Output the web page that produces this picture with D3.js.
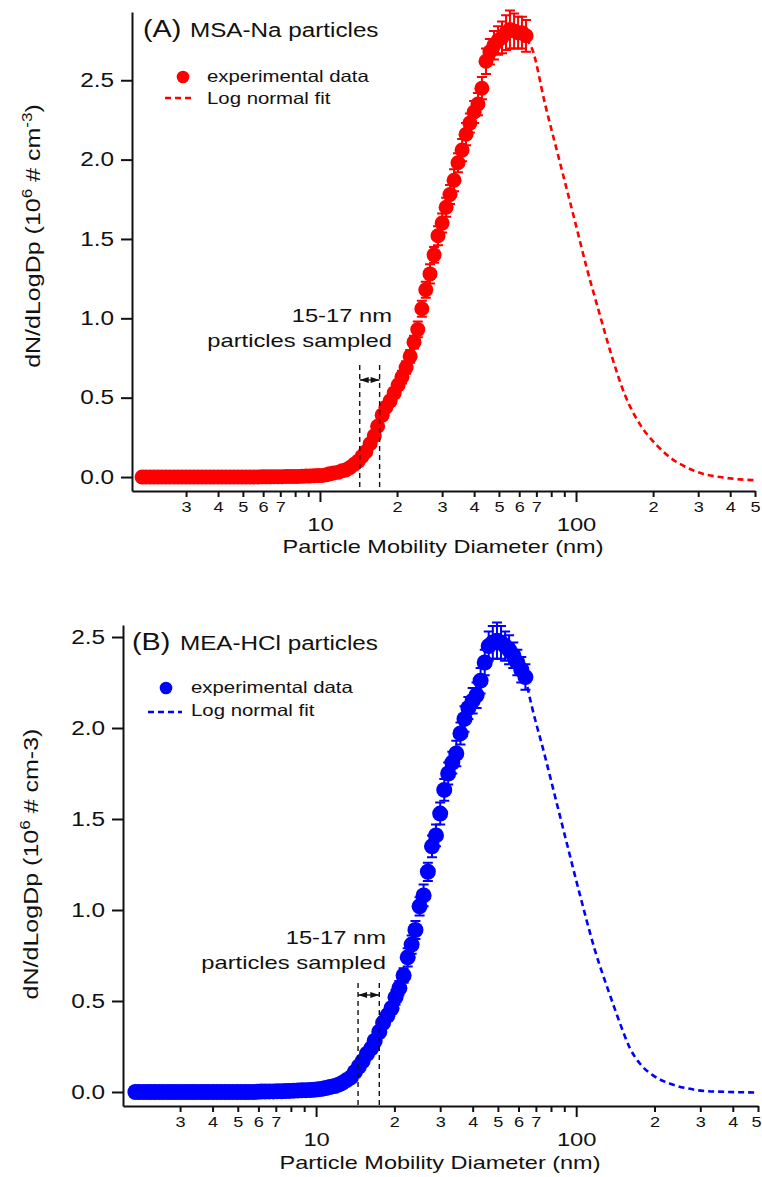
<!DOCTYPE html>
<html>
<head>
<meta charset="utf-8">
<script src="https://cdn.jsdelivr.net/npm/d3@7"></script>
<style>
    body { margin: 0; background: #fff; }
    svg text { font-family: "Liberation Sans", Arial, Helvetica, sans-serif; fill: #111; }
</style>
</head>
<body>
<div id="chart"></div>
<script>

// SMPS channel mid-point diameters (nm), 64 channels per decade
var diameters = [
    2.02, 2.09, 2.17, 2.25, 2.33, 2.41, 2.50, 2.59, 2.69, 2.79,
    2.89, 3.00, 3.11, 3.22, 3.34, 3.46, 3.59, 3.72, 3.85, 4.00,
    4.14, 4.29, 4.45, 4.61, 4.78, 4.96, 5.14, 5.33, 5.52, 5.73,
    5.94, 6.15, 6.38, 6.61, 6.85, 7.10, 7.37, 7.64, 7.91, 8.20,
    8.51, 8.82, 9.14, 9.47, 9.82,
    10.2, 10.6, 10.9, 11.3, 11.8, 12.2, 12.6, 13.1, 13.6, 14.1,
    14.6, 15.1, 15.7, 16.3, 16.8, 17.5, 18.1, 18.8, 19.5,
    20.2, 20.9, 21.7, 22.5, 23.3, 24.1,
    25.0, 25.9, 26.9, 27.9, 28.9, 30.0,
    31.1, 32.2, 33.4, 34.6, 35.9, 37.2, 38.5, 40.0, 41.4,
    42.9, 44.5, 46.1, 47.8, 49.6, 51.4, 53.3, 55.2, 57.3, 59.4, 61.5, 63.8
];

// (A) MSA-Na, dN/dLogDp in 10^6 # cm-3
var msaValues = [
    0, 0, 0, 0, 0, 0, 0, 0, 0, 0,
    0, 0, 0, 0, 0, 0, 0, 0, 0, 0,
    0, 0, 0, 0, 0, 0, 0, 0, 0, 0,
    0.001, 0.001, 0.001, 0.002, 0.002, 0.002, 0.003, 0.003, 0.004, 0.004,
    0.005, 0.006, 0.007, 0.008, 0.009,
    0.010, 0.015, 0.020, 0.025, 0.030, 0.040, 0.045, 0.060, 0.080, 0.100,
    0.13, 0.16, 0.21, 0.26, 0.32, 0.39, 0.44, 0.48, 0.53,
    0.58, 0.63, 0.69, 0.76, 0.85, 0.93,
    1.06, 1.18, 1.28, 1.40, 1.52, 1.60,
    1.70, 1.78, 1.87, 1.98, 2.06, 2.16, 2.23, 2.30, 2.35,
    2.45, 2.62, 2.68, 2.72, 2.75, 2.77, 2.80, 2.82, 2.81, 2.80, 2.80, 2.78
];
var msaErrors = [
    0, 0, 0, 0, 0, 0, 0, 0, 0, 0,
    0, 0, 0, 0, 0, 0, 0, 0, 0, 0,
    0, 0, 0, 0, 0, 0, 0, 0, 0, 0,
    0, 0, 0, 0, 0, 0, 0, 0, 0, 0,
    0, 0, 0, 0, 0,
    0.01, 0.01, 0.01, 0.01, 0.01, 0.01, 0.01, 0.01, 0.01, 0.01,
    0.02, 0.02, 0.02, 0.02, 0.02, 0.03, 0.03, 0.03, 0.03,
    0.03, 0.04, 0.04, 0.04, 0.04, 0.05,
    0.05, 0.05, 0.06, 0.05, 0.06, 0.06,
    0.06, 0.06, 0.07, 0.06, 0.07, 0.07, 0.06, 0.07, 0.07,
    0.07, 0.08, 0.08, 0.09, 0.09, 0.10, 0.11, 0.12, 0.11, 0.10, 0.10, 0.10
];
var msaFitD = [63.8, 67.3, 75.7, 86.6, 99.1, 110, 124, 138, 155, 178, 207, 239, 271, 313, 365, 437, 500];
var msaFitV = [2.76, 2.70, 2.35, 1.98, 1.61, 1.32, 1.02, 0.76, 0.52, 0.33, 0.20, 0.11, 0.06, 0.02, 0.0, -0.015, -0.02];
var msaSampled = [14.3, 17.1];

// (B) MEA-HCl
var meaValues = [
    0, 0, 0, 0, 0, 0, 0, 0, 0, 0,
    0, 0, 0, 0, 0, 0, 0, 0, 0, 0,
    0, 0, 0, 0, 0, 0, 0, 0, 0, 0,
    0.001, 0.002, 0.002, 0.003, 0.003, 0.004, 0.004, 0.005, 0.006, 0.007,
    0.008, 0.009, 0.010, 0.011, 0.012,
    0.015, 0.018, 0.022, 0.027, 0.033, 0.040, 0.050, 0.065, 0.080, 0.110,
    0.14, 0.17, 0.21, 0.24, 0.28, 0.33, 0.38, 0.42, 0.46,
    0.52, 0.57, 0.64, 0.74, 0.81, 0.89,
    1.02, 1.08, 1.21, 1.35, 1.41, 1.53,
    1.66, 1.75, 1.81, 1.86, 1.97, 2.05, 2.11, 2.15, 2.18,
    2.26, 2.36, 2.45, 2.47, 2.48, 2.47, 2.45, 2.43, 2.40, 2.36, 2.32, 2.28
];
var meaErrors = [
    0, 0, 0, 0, 0, 0, 0, 0, 0, 0,
    0, 0, 0, 0, 0, 0, 0, 0, 0, 0,
    0, 0, 0, 0, 0, 0, 0, 0, 0, 0,
    0, 0, 0, 0, 0, 0, 0, 0, 0, 0,
    0, 0, 0, 0, 0,
    0.01, 0.01, 0.01, 0.01, 0.01, 0.01, 0.01, 0.01, 0.01, 0.02,
    0.02, 0.02, 0.02, 0.02, 0.03, 0.03, 0.03, 0.03, 0.03,
    0.04, 0.04, 0.04, 0.05, 0.05, 0.05,
    0.05, 0.06, 0.05, 0.06, 0.06, 0.06,
    0.06, 0.06, 0.06, 0.07, 0.06, 0.07, 0.06, 0.07, 0.07,
    0.07, 0.07, 0.08, 0.09, 0.10, 0.09, 0.08, 0.08, 0.07, 0.07, 0.07, 0.07
];
var meaFitD = [63.8, 65.3, 76, 90.8, 103.5, 118, 135, 148, 161, 176, 198, 230, 267, 308, 391, 500];
var meaFitV = [2.28, 2.21, 1.84, 1.40, 1.08, 0.78, 0.53, 0.37, 0.24, 0.155, 0.09, 0.045, 0.02, 0.006, 0.0, -0.003];
var meaSampled = [14.5, 17.5];

// axis ticks
var yTicks = [0, 0.5, 1.0, 1.5, 2.0, 2.5];
var minorTicks = [3, 4, 5, 6, 7, 8, 9, 20, 30, 40, 50, 60, 70, 80, 90, 200, 300, 400, 500];
var minorLabels = ["3", "4", "5", "6", "7", "", "", "2", "3", "4", "5", "6", "7", "", "", "2", "3", "4", "5"];
var majorTicks = [10, 100];
var majorLabels = ["10", "100"];


var W = 762, H = 1177;
var SX = 1.25;  // the glyphs in the original figure are drawn wide

function wideText(sel, x, y, str, size, anchor) {
    return sel.append("text")
        .attr("transform", "translate(" + x + "," + y + ") scale(" + SX + ",1)")
        .attr("text-anchor", anchor || "start")
        .style("font-size", size + "px")
        .text(str);
}

/*
 * SizeDist - one panel of the size distribution figure
 */
SizeDist = function(_svg, _cfg) {
    this.svg = _svg;
    this.cfg = _cfg;
    this.initVis();
};

SizeDist.prototype.initVis = function() {
    var vis = this, c = vis.cfg;

    vis.x = d3.scaleLog().domain(c.xDomain).range([c.left, c.right]);
    vis.y = d3.scaleLinear().domain(c.yDomain).range([c.bottom, c.top]);

    vis.g = vis.svg.append("g");

    vis.drawAxes();
    vis.drawData();
    vis.drawLegend();
    vis.drawAnnotation();
};

SizeDist.prototype.drawAxes = function() {
    var vis = this, c = vis.cfg;

    // y axis
    var yAxis = vis.g.append("g")
        .attr("transform", "translate(" + c.left + ",0)")
        .call(d3.axisLeft(vis.y).tickValues(yTicks).tickFormat(d3.format(".1f"))
            .tickSize(11).tickSizeOuter(0))
        .attr("font-size", null).attr("font-family", null);
    yAxis.selectAll("path, line").attr("stroke", "#111").attr("stroke-width", 2);
    yAxis.selectAll("text")
        .attr("x", -(11 + 7) / SX)
        .attr("transform", "scale(" + SX + ",1)")
        .style("font-size", "19.5px");

    // x axis, minor ticks
    var xMinor = vis.g.append("g")
        .attr("transform", "translate(0," + c.bottom + ")")
        .call(d3.axisBottom(vis.x).tickValues(minorTicks)
            .tickFormat(function(d, i) { return minorLabels[i]; })
            .tickSize(6).tickSizeOuter(0))
        .attr("font-size", null).attr("font-family", null);
    xMinor.selectAll("path, line").attr("stroke", "#111").attr("stroke-width", 2);
    xMinor.selectAll("text")
        .attr("y", 21).attr("dy", null)
        .attr("transform", "scale(" + SX + ",1)")
        .style("font-size", "14.5px")
        .each(function(d) {
            // keep the last label inside the page edge
            var px = vis.x(d);
            if (px + 5 > W) {
                d3.select(this).attr("text-anchor", "end").attr("x", (W - 1 - px) / SX);
            }
        });

    // x axis, decades
    var xMajor = vis.g.append("g")
        .attr("transform", "translate(0," + c.bottom + ")")
        .call(d3.axisBottom(vis.x).tickValues(majorTicks)
            .tickFormat(function(d, i) { return majorLabels[i]; })
            .tickSize(11).tickSizeOuter(0))
        .attr("font-size", null).attr("font-family", null);
    xMajor.select(".domain").remove();
    xMajor.selectAll("line").attr("stroke", "#111").attr("stroke-width", 2);
    xMajor.selectAll("text")
        .attr("y", 40).attr("dy", null)
        .attr("transform", "scale(" + SX + ",1)")
        .style("font-size", "19px");

    // axis titles
    wideText(vis.g, c.xTitle[0], c.xTitle[1], "Particle Mobility Diameter (nm)", 18.8, "middle");

    var t = vis.g.append("text")
        .attr("transform", "translate(" + c.yTitle[0] + "," + c.yTitle[1] + ") rotate(-90) scale(1.22,1)")
        .attr("text-anchor", "middle")
        .style("font-size", "20.5px");
    t.append("tspan").text("dN/dLogDp (10");
    t.append("tspan").attr("dy", -8).style("font-size", "14px").text("6");
    if (c.supUnit) {
        t.append("tspan").attr("dy", 8).text(" # cm");
        t.append("tspan").attr("dy", -8).style("font-size", "14px").text("-3");
        t.append("tspan").attr("dy", 8).text(")");
    } else {
        t.append("tspan").attr("dy", 8).text(" # cm-3)");
    }

    // panel title
    wideText(vis.g, c.tagX, c.titleY, c.tag, 23, "start");
    wideText(vis.g, c.nameX, c.titleY, c.name, 19.4, "start");
};

SizeDist.prototype.drawData = function() {
    var vis = this, c = vis.cfg;

    var points = diameters.map(function(d, i) {
        return { d: d, v: c.values[i], e: c.errors[i] };
    });
    var fit = c.fitD.map(function(d, i) { return [d, c.fitV[i]]; });

    // log normal fit
    var line = d3.line()
        .x(function(d) { return vis.x(d[0]); })
        .y(function(d) { return vis.y(d[1]); })
        .curve(d3.curveMonotoneX);

    vis.g.append("path")
        .datum(fit)
        .attr("d", line)
        .attr("fill", "none")
        .attr("stroke", c.color)
        .attr("stroke-width", 2.6)
        .attr("stroke-dasharray", "6,4");

    // error bars
    vis.g.append("g").selectAll(".err")
        .data(points.filter(function(p) { return p.e > 0; }))
        .enter().append("path")
        .attr("class", "err")
        .attr("d", function(p) {
            var x = vis.x(p.d), y0 = vis.y(p.v - p.e), y1 = vis.y(p.v + p.e), w = 5;
            return "M" + x + "," + y0 + "V" + y1 +
                "M" + (x - w) + "," + y1 + "H" + (x + w) +
                "M" + (x - w) + "," + y0 + "H" + (x + w);
        })
        .attr("fill", "none")
        .attr("stroke", c.color)
        .attr("stroke-width", 2);

    // markers
    vis.g.append("g").selectAll(".pt")
        .data(points)
        .enter().append("circle")
        .attr("class", "pt")
        .attr("cx", function(p) { return vis.x(p.d); })
        .attr("cy", function(p) { return vis.y(p.v); })
        .attr("r", c.r)
        .attr("fill", c.color);
};

SizeDist.prototype.drawLegend = function() {
    var vis = this, c = vis.cfg, L = c.legend;

    vis.g.append("circle")
        .attr("cx", L.dotX).attr("cy", L.dotY).attr("r", 6.3)
        .attr("fill", c.color);
    wideText(vis.g, L.textX, L.row1, "experimental data", 16.3, "start");

    vis.g.append("line")
        .attr("x1", L.lineX[0]).attr("x2", L.lineX[1])
        .attr("y1", L.lineY).attr("y2", L.lineY)
        .attr("stroke", c.color)
        .attr("stroke-width", 2.6)
        .attr("stroke-dasharray", "6,4");
    wideText(vis.g, L.textX, L.row2, "Log normal fit", 16.3, "start");
};

SizeDist.prototype.drawAnnotation = function() {
    var vis = this, c = vis.cfg, a = c.note;

    var xa = vis.x(c.sampled[0]), xb = vis.x(c.sampled[1]);

    [xa, xb].forEach(function(x) {
        vis.g.append("line")
            .attr("x1", x).attr("x2", x)
            .attr("y1", a.top).attr("y2", c.bottom)
            .attr("stroke", "#111")
            .attr("stroke-width", 1.4)
            .attr("stroke-dasharray", "5,4");
    });

    // double headed arrow
    vis.g.append("line")
        .attr("x1", xa).attr("x2", xb)
        .attr("y1", a.arrowY).attr("y2", a.arrowY)
        .attr("stroke", "#111").attr("stroke-width", 1.3);
    var h = 9, w = 3;
    vis.g.append("path")
        .attr("d", "M" + xa + "," + a.arrowY + "L" + (xa + h) + "," + (a.arrowY - w) + "L" + (xa + h) + "," + (a.arrowY + w) + "Z" +
            "M" + xb + "," + a.arrowY + "L" + (xb - h) + "," + (a.arrowY - w) + "L" + (xb - h) + "," + (a.arrowY + w) + "Z")
        .attr("fill", "#111");

    wideText(vis.g, a.textX, a.row1, "15-17 nm", 19, "end");
    wideText(vis.g, a.textX, a.row2, "particles sampled", 19, "end");
};


var svg = d3.select("#chart").append("svg")
    .attr("width", W)
    .attr("height", H);

var panelA = new SizeDist(svg, {
    values: msaValues, errors: msaErrors, fitD: msaFitD, fitV: msaFitV, sampled: msaSampled,
    color: "#ff0000", r: 7.5,
    xDomain: [1.845, 500], yDomain: [-0.088, 2.93],
    left: 132, right: 755, top: 12, bottom: 491,
    tag: "(A)", name: "MSA-Na particles", tagX: 143, nameX: 190, titleY: 37,
    xTitle: [443, 553], yTitle: [40, 236], supUnit: true,
    legend: { dotX: 183, dotY: 77, textX: 207, row1: 82, row2: 104, lineX: [165, 193], lineY: 98 },
    note: { top: 365, arrowY: 380, textX: 392, row1: 322, row2: 347 }
});

var panelB = new SizeDist(svg, {
    values: meaValues, errors: meaErrors, fitD: meaFitD, fitV: meaFitV, sampled: meaSampled,
    color: "#0000ff", r: 8,
    xDomain: [1.81, 500], yDomain: [-0.077, 2.566],
    left: 123, right: 758, top: 625, bottom: 1106,
    tag: "(B)", name: "MEA-HCl particles", tagX: 132, nameX: 180, titleY: 650,
    xTitle: [440, 1169], yTitle: [38, 864], supUnit: false,
    legend: { dotX: 166, dotY: 688, textX: 191, row1: 693, row2: 716, lineX: [148, 182], lineY: 712 },
    note: { top: 983, arrowY: 995, textX: 386, row1: 944, row2: 969 }
});

</script>
</body>
</html>
